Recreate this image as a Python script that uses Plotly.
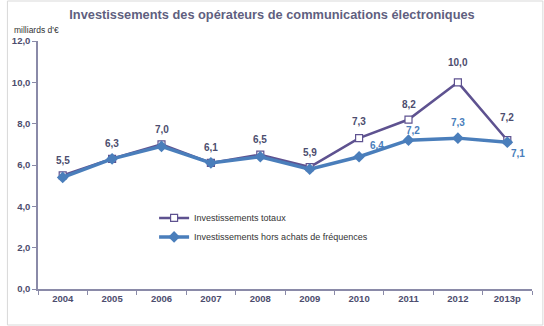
import plotly.graph_objects as go

years = ["2004", "2005", "2006", "2007", "2008", "2009", "2010", "2011", "2012", "2013p"]
totaux = [5.5, 6.3, 7.0, 6.1, 6.5, 5.9, 7.3, 8.2, 10.0, 7.2]
hors_frequences = [5.4, 6.3, 6.9, 6.1, 6.4, 5.8, 6.4, 7.2, 7.3, 7.1]
# which points of the second series carry a value label
hors_labelled = [False] * 6 + [True] * 4

PURPLE = "#5E5290"
BLUE = "#4A7EBB"
AXIS = "#8A8AA8"
TXT = "#4D4D6E"
FONT = "Liberation Sans, Arial"

def fr(v):
    return f"{v:.1f}".replace(".", ",")

fig = go.Figure()
fig.add_trace(go.Scatter(
    x=years, y=totaux, name="Investissements totaux", mode="lines+markers",
    line=dict(color=PURPLE, width=2.5),
    marker=dict(symbol="square", size=7, color="white", line=dict(color=PURPLE, width=1.2)),
))
fig.add_trace(go.Scatter(
    x=years, y=hors_frequences, name="Investissements hors achats de fréquences",
    mode="lines+markers",
    line=dict(color=BLUE, width=3.5),
    marker=dict(symbol="diamond", size=9, color=BLUE),
))

# value labels, placed by category index on the category axis
tot_shift = {"2012": 20, "2013p": 23, "2010": 17}
annotations = []
for i, (yr, v) in enumerate(zip(years, totaux)):
    annotations.append(dict(x=i, y=v, text=fr(v), showarrow=False, yshift=tot_shift.get(yr, 15),
                            font=dict(family=FONT, size=10, color=TXT, weight="bold")))
hors_shift = {"2010": (18, 11), "2011": (4, 10), "2012": (0, 16), "2013p": (11, -11)}
for i, (yr, v, lab) in enumerate(zip(years, hors_frequences, hors_labelled)):
    if lab:
        dx, dy = hors_shift[yr]
        annotations.append(dict(x=i, y=v, text=fr(v), showarrow=False, xshift=dx, yshift=dy,
                                font=dict(family=FONT, size=10, color=BLUE, weight="bold")))
annotations.append(dict(xref="paper", yref="paper", x=-0.052, y=1.015, xanchor="left", yanchor="bottom",
                        text="milliards d'€", showarrow=False,
                        font=dict(family=FONT, size=8.5, color="#333333")))

fig.update_layout(
    width=544, height=326,
    margin=dict(l=31, r=12, t=41, b=37),
    paper_bgcolor="white", plot_bgcolor="white",
    title=dict(text="<b>Investissements des opérateurs de communications électroniques</b>",
               x=0.5, xanchor="center", y=0.955, yanchor="middle",
               font=dict(family=FONT, size=12.8, color="#5F5F80")),
    xaxis=dict(type="category", tickson="boundaries", ticks="outside", ticklen=4,
               tickcolor=AXIS, showline=True, linecolor=AXIS, linewidth=1.5,
               showgrid=False, range=[-0.5, 9.5],
               tickfont=dict(family=FONT, size=9.5, color=TXT, weight="bold")),
    yaxis=dict(range=[0, 12], tickvals=[0, 2, 4, 6, 8, 10, 12],
               ticktext=["0,0", "2,0", "4,0", "6,0", "8,0", "10,0", "12,0"],
               ticks="outside", ticklen=4, tickcolor=AXIS, showline=True, linecolor=AXIS,
               linewidth=1.5, showgrid=False, zeroline=False,
               tickfont=dict(family=FONT, size=9.5, color=TXT, weight="bold")),
    legend=dict(x=0.235, y=0.345, xanchor="left", yanchor="top", bgcolor="rgba(0,0,0,0)",
                font=dict(family=FONT, size=9, color="#333333"),
                tracegroupgap=0, itemwidth=30),
    showlegend=True,
    annotations=annotations,
    shapes=[dict(type="rect", xref="paper", yref="paper", x0=-31/501, x1=1+11/501,
                 y0=-36/248, y1=1+40/248, line=dict(color="#D9D9D9", width=1))],
)

fig.write_html("out.html")
